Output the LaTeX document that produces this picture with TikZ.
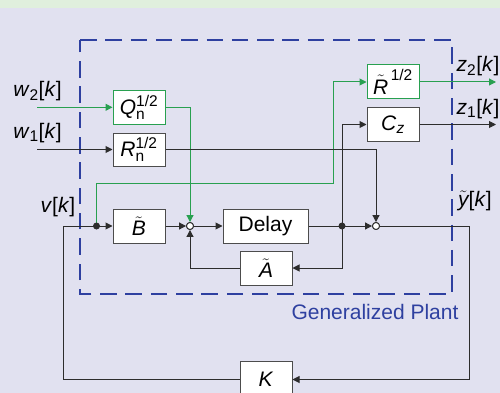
\documentclass[tikz,border=0pt]{standalone}
\usepackage{amsmath}
\usepackage{fontspec}
\setmainfont{Liberation Sans}
\usetikzlibrary{arrows.meta}
\DeclareMathSizes{21}{21}{15.5}{11}
\definecolor{bgl}{RGB}{225,225,240}
\definecolor{bgg}{RGB}{224,239,221}
\definecolor{plantblue}{RGB}{46,64,160}
\definecolor{sig}{RGB}{40,160,80}
\definecolor{ln}{RGB}{45,45,45}
\tikzset{
  block/.style={draw=black!70, fill=white, line width=1pt, minimum width=52pt, minimum height=34pt, inner sep=0pt},
  gblock/.style={block, draw=sig},
  sumnode/.style={circle, draw=ln, fill=white, line width=0.9pt, minimum size=7pt, inner sep=0pt},
  dotnode/.style={circle, fill=ln, minimum size=7pt, inner sep=0pt},
  wire/.style={draw=ln, line width=1pt},
  gwire/.style={draw=sig, line width=1pt},
  arr/.style={-{Triangle[length=7pt,width=7pt]}},
  lbl/.style={inner sep=0pt}
}
\begin{document}
\begin{tikzpicture}[x=1pt,y=-1pt,font=\fontsize{21}{25}\selectfont]
\useasboundingbox (0,0) rectangle (500,393);
\fill[bgl] (0,0) rectangle (500,393);
\fill[bgg] (0,0) rectangle (500,8);

% generalized plant frame
\draw[plantblue, line width=1.7pt, dash pattern=on 16.5pt off 8.8pt] (80,40) -- (452,40) -- (452,294) -- (80,294) -- cycle;
\node[lbl, text=plantblue] (gp) at (375,312) {Generalized Plant};

% blocks
\node[gblock, minimum height=34.5pt] (Q) at (139,107.3) {\textit{Q}$^{\text{1/2}}_{\text{n}}$};
\node[block, minimum height=33pt] (Rn) at (139,149.5) {\textit{R}$^{\text{1/2}}_{\text{n}}$};
\node[gblock] (Rt) at (393,82) {$\tilde{\text{\itshape R}}^{\,\text{1/2}}$};
\node[block] (Cz) at (393,124.5) {\textit{C}$_{\text{\itshape z}}$};
\node[block] (B) at (139,226) {$\tilde{\text{\itshape B}}$};
\node[block, minimum width=85pt] (D) at (265.5,226) {Delay};
\node[block] (A) at (266,268) {$\tilde{\text{\itshape A}}$};
\node[block, minimum height=36pt] (K) at (266,379.5) {\textit{K}};

\node[sumnode] (s1) at (190,226) {};
\node[sumnode] (s2) at (376,226) {};
\coordinate (d1) at (96.5,226);
\coordinate (d2) at (342,226);

% terminal coordinates
\coordinate (w2s) at (37,107.3);
\coordinate (w1s) at (37,149.5);
\coordinate (z2e) at (496,82);
\coordinate (z1e) at (496,124.5);
\coordinate (yo) at (469,226);
\coordinate (vc) at (63,226);
\coordinate (g2) at (333,183);

% labels
\node[lbl] (lw2) at (37.5,91) {\textit{w}$_{\text{2}}$[\textit{k}]};
\node[lbl] (lw1) at (37.5,133) {\textit{w}$_{\text{1}}$[\textit{k}]};
\node[lbl] (lv) at (58,207) {\textit{v}[\textit{k}]};
\node[lbl] (lz2) at (478,66) {\textit{z}$_{\text{2}}$[\textit{k}]};
\node[lbl] (lz1) at (478,109) {\textit{z}$_{\text{1}}$[\textit{k}]};
\node[lbl] (ly) at (475,201) {$\tilde{\text{\itshape y}}$[\textit{k}]};

% green signal paths
\draw[gwire, arr, sig] (w2s) -- (Q.west);
\draw[gwire, arr, sig] (Q.east) -| (s1.north);
\draw[gwire, arr, sig] (d1) |- (g2) |- (Rt.west);
\draw[gwire, arr, sig] (Rt.east) -- (z2e);

% black signal paths
\draw[wire, arr] (w1s) -- (Rn.west);
\draw[wire, arr] (Rn.east) -| (s2.north);
\draw[wire, arr] (B.east) -- (s1.west);
\draw[wire, arr] (s1.east) -- (D.west);
\draw[wire, arr] (D.east) -- (s2.west);
\draw[wire, arr] (d2) |- (Cz.west);
\draw[wire, arr] (Cz.east) -- (z1e);
\draw[wire, arr] (d2) |- (A.east);
\draw[wire, arr] (A.west) -| (s1.south);
\draw[wire, arr] (s2.east) -- (yo) |- (K.east);
\draw[wire, arr] (K.west) -| (vc) -- (B.west);

\node[dotnode] (dd1) at (d1) {};
\node[dotnode] (dd2) at (d2) {};
\node[sumnode] at (s1) {};
\node[sumnode] at (s2) {};
\end{tikzpicture}
\end{document}
